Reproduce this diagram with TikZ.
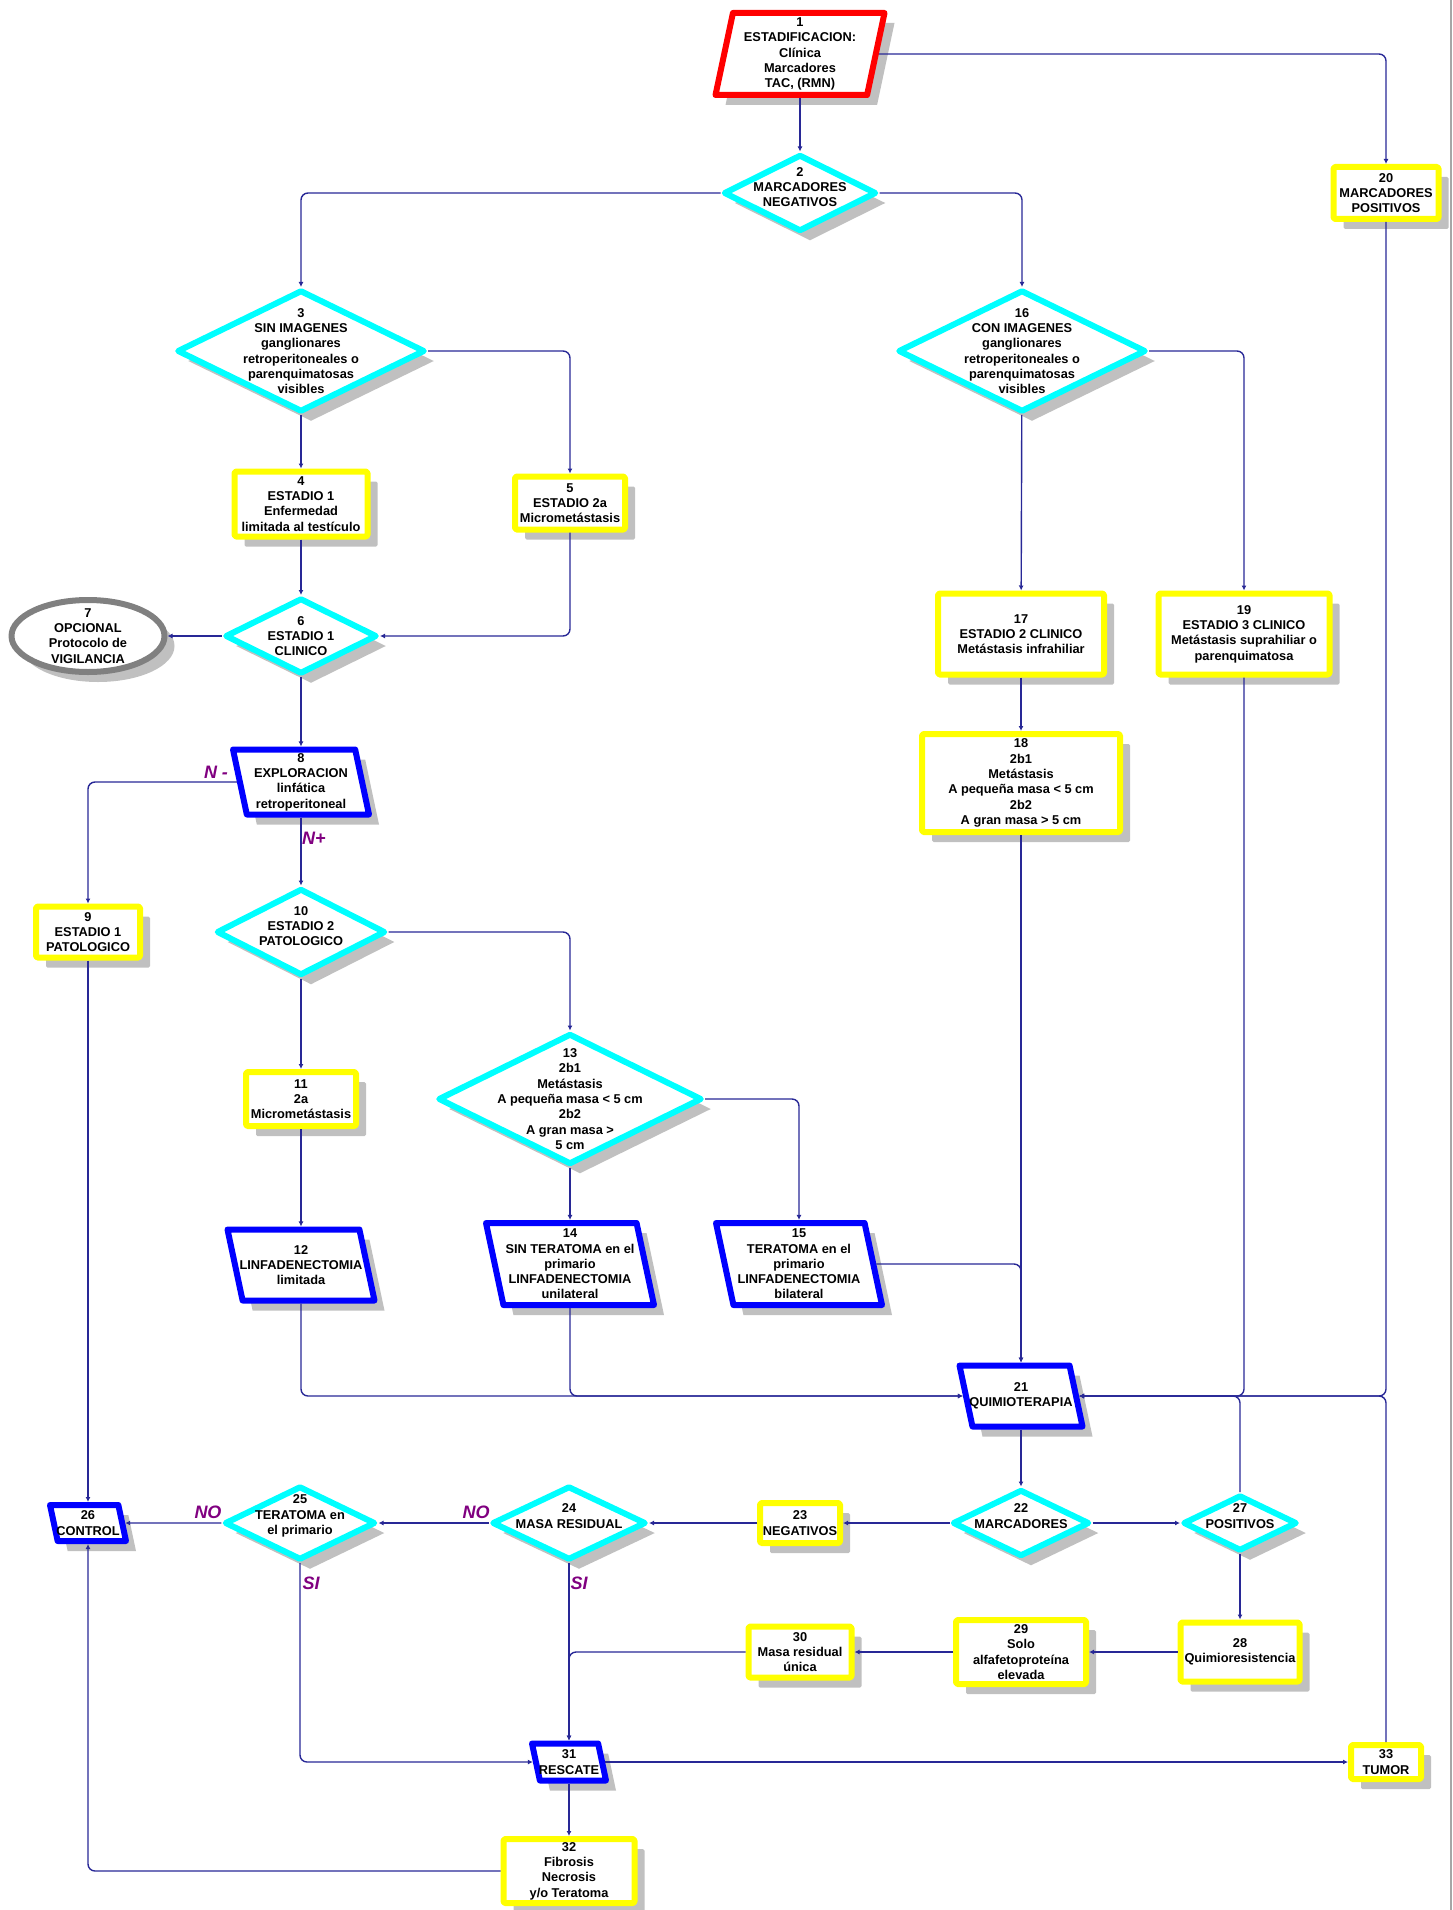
\documentclass[tikz,border=0pt]{standalone}
\usepackage{fontspec}
\setmainfont{Liberation Sans}
\usetikzlibrary{shapes.geometric}
\usetikzlibrary{shadows}
\usetikzlibrary{arrows.meta}
\definecolor{amarillo}{RGB}{255,255,0}
\definecolor{cian}{RGB}{0,255,255}
\definecolor{azul}{RGB}{0,0,255}
\definecolor{rojo}{RGB}{255,0,0}
\definecolor{gris}{RGB}{128,128,128}
\definecolor{sombra}{RGB}{192,192,192}
\definecolor{linea}{RGB}{40,40,150}
\definecolor{morado}{RGB}{128,0,128}

\begin{document}
\begin{tikzpicture}[x=1pt, y=-1pt,
	forma/.style={line width=6pt, fill=white, line join=round, inner sep=0pt,
		general shadow={fill=sombra, shadow xshift=10pt, shadow yshift=-10pt}},
	caja/.style={forma, draw=amarillo, rectangle, rounded corners=1.5pt},
	rombo/.style={forma, draw=cian, diamond},
	proceso/.style={forma, draw=azul, trapezium, trapezium left angle=102, trapezium right angle=78, trapezium stretches body, text depth=0pt},
	entrada/.style={forma, draw=rojo, trapezium, trapezium left angle=78, trapezium right angle=102, trapezium stretches body, text depth=0pt},
	elipse/.style={forma, draw=gris, ellipse},
	texto/.style={font=\bfseries\fontsize{12.8}{15.3}\selectfont, align=center, inner sep=0pt},
	flecha/.style={draw=linea, line width=1.4pt, rounded corners=7pt, -{Latex[length=5pt,width=5pt]}},
	rotulo/.style={text=morado, font=\bfseries\itshape\fontsize{18}{20}\selectfont},
	]
	\useasboundingbox (0,0) rectangle (1452,1910);
	\draw[gris!70, line width=2pt] (1451,0) -- (1451,1910);

	\node[entrada, minimum width=169pt, text height=82pt, label={[texto]center:{1\\ESTADIFICACION:\\Clínica\\Marcadores\\TAC, (RMN)}}] (n1) at (800,54) {};
	\node[rombo, minimum width=153pt, minimum height=77pt, label={[texto,yshift=6pt]center:{2\\MARCADORES\\NEGATIVOS}}] (n2) at (800,193) {};
	\node[caja, minimum width=105pt, minimum height=52pt, label={[texto]center:{20\\MARCADORES\\POSITIVOS}}] (n20) at (1386,193) {};
	\node[rombo, minimum width=248pt, minimum height=122pt, label={[texto]center:{3\\SIN IMAGENES\\ganglionares\\retroperitoneales o\\parenquimatosas\\visibles}}] (n3) at (301,351) {};
	\node[rombo, minimum width=248pt, minimum height=122pt, label={[texto]center:{16\\CON IMAGENES\\ganglionares\\retroperitoneales o\\parenquimatosas\\visibles}}] (n16) at (1022,351) {};
	\node[caja, minimum width=133pt, minimum height=65pt, label={[texto]center:{4\\ESTADIO 1\\Enfermedad\\limitada al testículo}}] (n4) at (301,504) {};
	\node[caja, minimum width=110pt, minimum height=53pt, label={[texto]center:{5\\ESTADIO 2a\\Micrometástasis}}] (n5) at (570,503) {};
	\node[rombo, minimum width=152pt, minimum height=76pt, label={[texto]center:{6\\ESTADIO 1\\CLINICO}}] (n6) at (301,636) {};
	\node[elipse, minimum width=153pt, minimum height=72pt, label={[texto]center:{7\\OPCIONAL\\Protocolo de\\VIGILANCIA}}] (n7) at (88,636) {};
	\node[proceso, minimum width=136pt, text height=65pt, label={[texto]center:{8\\EXPLORACION\\linfática\\retroperitoneal}}] (n8) at (301,782) {};
	\node[caja, minimum width=104pt, minimum height=51pt, label={[texto]center:{9\\ESTADIO 1\\PATOLOGICO}}] (n9) at (88,932) {};
	\node[rombo, minimum width=169pt, minimum height=87pt, label={[texto,yshift=6pt]center:{10\\ESTADIO 2\\PATOLOGICO}}] (n10) at (301,932) {};
	\node[caja, minimum width=110pt, minimum height=54pt, label={[texto]center:{11\\2a\\Micrometástasis}}] (n11) at (301,1099) {};
	\node[rombo, minimum width=264pt, minimum height=131pt, label={[texto]center:{13\\2b1\\Metástasis\\A pequeña masa < 5 cm\\2b2\\A gran masa >\\5 cm}}] (n13) at (570,1099) {};
	\node[proceso, minimum width=147pt, text height=71pt, label={[texto]center:{12\\LINFADENECTOMIA\\limitada}}] (n12) at (301,1265) {};
	\node[proceso, minimum width=168pt, text height=82pt, label={[texto]center:{14\\SIN TERATOMA en el\\primario\\LINFADENECTOMIA\\unilateral}}] (n14) at (570,1264) {};
	\node[proceso, minimum width=166pt, text height=82pt, label={[texto]center:{15\\TERATOMA en el\\primario\\LINFADENECTOMIA\\bilateral}}] (n15) at (799,1264) {};
	\node[caja, minimum width=166pt, minimum height=81pt, label={[texto]center:{17\\ESTADIO 2 CLINICO\\Metástasis infrahiliar}}] (n17) at (1021,634) {};
	\node[caja, minimum width=198pt, minimum height=98pt, label={[texto]center:{18\\2b1\\Metástasis\\A pequeña masa < 5 cm\\2b2\\A gran masa > 5 cm}}] (n18) at (1021,783) {};
	\node[caja, minimum width=171pt, minimum height=81pt, label={[texto]center:{19\\ESTADIO 3 CLINICO\\Metástasis suprahiliar o\\parenquimatosa}}] (n19) at (1244,634) {};
	\node[proceso, minimum width=123pt, text height=61pt, label={[texto]center:{21\\QUIMIOTERAPIA}}] (n21) at (1021,1396) {};
	\node[rombo, minimum width=137pt, minimum height=67pt, label={[texto,yshift=7pt]center:{22\\MARCADORES}}] (n22) at (1021,1523) {};
	\node[caja, minimum width=80pt, minimum height=40pt, label={[texto]center:{23\\NEGATIVOS}}] (n23) at (800,1523) {};
	\node[rombo, minimum width=154pt, minimum height=74pt, label={[texto,yshift=7pt]center:{24\\MASA RESIDUAL}}] (n24) at (569,1523) {};
	\node[rombo, minimum width=151pt, minimum height=74pt, label={[texto,yshift=7pt]center:{25\\TERATOMA en\\el primario}}] (n25) at (300,1523) {};
	\node[proceso, minimum width=76pt, text height=36pt, label={[texto]center:{26\\CONTROL}}] (n26) at (88,1523) {};
	\node[rombo, minimum width=114pt, minimum height=56pt, label={[texto,yshift=7pt]center:{27\\POSITIVOS}}] (n27) at (1240,1523) {};
	\node[caja, minimum width=119pt, minimum height=59pt, label={[texto]center:{28\\Quimioresistencia}}] (n28) at (1240,1652) {};
	\node[caja, minimum width=130pt, minimum height=64pt, label={[texto]center:{29\\Solo\\alfafetoproteína\\elevada}}] (n29) at (1021,1652) {};
	\node[caja, minimum width=103pt, minimum height=51pt, label={[texto]center:{30\\Masa residual\\única}}] (n30) at (800,1652) {};
	\node[proceso, minimum width=74pt, text height=37pt, label={[texto]center:{31\\RESCATE}}] (n31) at (569,1762) {};
	\node[caja, minimum width=131pt, minimum height=64pt, label={[texto]center:{32\\Fibrosis\\Necrosis\\y/o Teratoma}}] (n32) at (569,1871) {};
	\node[caja, minimum width=70pt, minimum height=34pt, label={[texto]center:{33\\TUMOR}}] (n33) at (1386,1762) {};

	\node[rotulo] (nmenos) at (216,772) {N -};
	\node[rotulo] (nmas) at (314,838) {N+};
	\node[rotulo] (no24) at (476,1512) {NO};
	\node[rotulo] (no25) at (208,1512) {NO};
	\node[rotulo] (si24) at (579,1583) {SI};
	\node[rotulo] (si25) at (311,1583) {SI};

	\draw[flecha] (n1) -- (n2);
	\draw[flecha] (n1.right side) -| (n20);
	\draw[flecha] (n2.west) -| (n3);
	\draw[flecha] (n2.east) -| (n16);
	\draw[flecha] (n3) -- (n4);
	\draw[flecha] (n3.east) -| (n5);
	\draw[flecha] (n16) -- (n17);
	\draw[flecha] (n16.east) -| (n19);
	\draw[flecha] (n4) -- (n6);
	\draw[flecha] (n5) |- (n6.east);
	\draw[flecha] (n6) -- (n7);
	\draw[flecha] (n6) -- (n8);
	\draw[flecha] (n8.left side) -| (n9);
	\draw[flecha] (n8) -- (n10);
	\draw[flecha] (n10.east) -| (n13);
	\draw[flecha] (n10) -- (n11);
	\draw[flecha] (n11) -- (n12);
	\draw[flecha] (n13) -- (n14);
	\draw[flecha] (n13.east) -| (n15);
	\draw[flecha] (n17) -- (n18);
	\draw[flecha] (n18) -- (n21);
	\draw[flecha] (n15.right side) -| (n21);
	\draw[flecha] (n12) |- (n21.left side);
	\draw[flecha] (n14) |- (n21.left side);
	\draw[flecha] (n19) |- (n21.right side);
	\draw[flecha] (n20) |- (n21.right side);
	\draw[flecha] (n27) |- (n21.right side);
	\draw[flecha] (n33) |- (n21.right side);
	\draw[flecha] (n21) -- (n22);
	\draw[flecha] (n22) -- (n23);
	\draw[flecha] (n22) -- (n27);
	\draw[flecha] (n23) -- (n24);
	\draw[flecha] (n24) -- (n25);
	\draw[flecha] (n25) -- (n26);
	\draw[flecha] (n9) -- (n26);
	\draw[flecha] (n25) |- (n31.left side);
	\draw[flecha] (n24) -- (n31);
	\draw[flecha] (n27) -- (n28);
	\draw[flecha] (n28) -- (n29);
	\draw[flecha] (n29) -- (n30);
	\draw[flecha] (n30.west) -| (n31);
	\draw[flecha] (n31.right side) -- (n33);
	\draw[flecha] (n31) -- (n32);
	\draw[flecha] (n32.west) -| (n26);
\end{tikzpicture}
\end{document}
